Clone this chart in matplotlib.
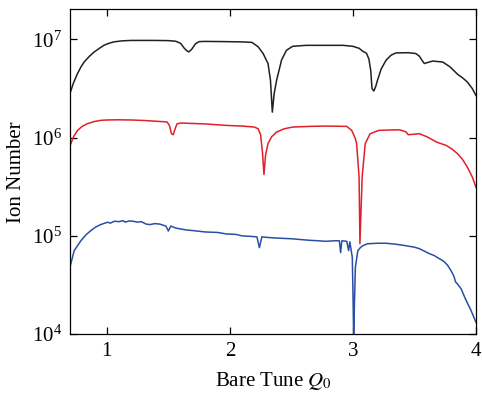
import numpy as np
import matplotlib
matplotlib.use("Agg")
import matplotlib.pyplot as plt
from matplotlib.ticker import LogLocator, NullLocator

plt.rcParams['font.family'] = ['Liberation Serif', 'DejaVu Serif']
plt.rcParams['mathtext.fontset'] = 'stix'

# Black series (bare tune, log10 ion number)
q_black = [0.70, 0.73, 0.762, 0.79, 0.816, 0.86, 0.898, 0.94, 0.979, 1.02, 1.06, 1.128, 1.20, 1.30, 1.40, 1.50,
           1.56, 1.60, 1.63, 1.65, 1.667, 1.69, 1.72, 1.75, 1.80, 1.95, 2.10, 2.18, 2.23, 2.27, 2.31, 2.33,
           2.345, 2.36, 2.38, 2.42, 2.46, 2.51, 2.62, 2.80, 2.92, 3.00, 3.05, 3.08, 3.11, 3.13, 3.145, 3.155,
           3.17, 3.185, 3.20, 3.23, 3.27, 3.31, 3.35, 3.45, 3.51, 3.54, 3.56, 3.58, 3.62, 3.65, 3.73, 3.79, 3.85,
           3.89, 3.93, 3.97, 4.00]
lg_black = [6.449, 6.56, 6.653, 6.72, 6.771, 6.83, 6.873, 6.91, 6.942, 6.962, 6.976, 6.986, 6.99, 6.99, 6.99, 6.988,
            6.982, 6.96, 6.91, 6.885, 6.873, 6.90, 6.955, 6.978, 6.98, 6.978, 6.975, 6.97, 6.925, 6.857, 6.755, 6.585,
            6.26, 6.45, 6.585, 6.79, 6.89, 6.93, 6.94, 6.94, 6.94, 6.93, 6.91, 6.88, 6.86, 6.80, 6.68, 6.50,
            6.475, 6.52, 6.585, 6.70, 6.79, 6.84, 6.863, 6.865, 6.857, 6.83, 6.79, 6.755, 6.77, 6.78, 6.77, 6.72, 6.646,
            6.61, 6.567, 6.50, 6.43]

# Red series
q_red = [0.70, 0.73, 0.762, 0.80, 0.843, 0.90, 0.95, 1.00, 1.087, 1.20, 1.30, 1.43, 1.49, 1.51, 1.525, 1.54,
         1.555, 1.57, 1.60, 1.80, 1.97, 2.10, 2.20, 2.23, 2.25, 2.265, 2.277, 2.29, 2.31, 2.34, 2.38, 2.44,
         2.51, 2.65, 2.78, 2.95, 2.99, 3.02, 3.03, 3.05, 3.057, 3.075, 3.10, 3.14, 3.21, 3.30, 3.38, 3.43,
         3.45, 3.54, 3.60, 3.68, 3.76, 3.81, 3.85, 3.89, 3.93, 3.97, 4.00]
lg_red = [5.914, 6.01, 6.074, 6.115, 6.143, 6.165, 6.176, 6.18, 6.182, 6.18, 6.175, 6.165, 6.16, 6.12, 6.04, 6.03,
          6.09, 6.14, 6.149, 6.14, 6.125, 6.118, 6.108, 6.09, 6.03, 5.85, 5.625, 5.82, 5.94, 6.01, 6.057, 6.09,
          6.108, 6.115, 6.118, 6.115, 6.074, 5.99, 5.94, 5.60, 4.92, 5.60, 5.94, 6.04, 6.074, 6.078, 6.08, 6.06,
          6.03, 6.04, 6.01, 5.955, 5.92, 5.88, 5.837, 5.78, 5.70, 5.60, 5.496]

# Blue series
q_blue = [0.70, 0.735, 0.79, 0.83, 0.87, 0.91, 0.95, 1.006, 1.03, 1.06, 1.10, 1.13, 1.15, 1.18, 1.21, 1.25, 1.28,
          1.32, 1.35, 1.39, 1.43, 1.48, 1.50, 1.52, 1.56, 1.60, 1.65, 1.70, 1.80, 1.90, 1.97, 2.05, 2.10, 2.17,
          2.22, 2.24, 2.26, 2.30, 2.35, 2.43, 2.51, 2.60, 2.65, 2.72, 2.78, 2.85, 2.89, 2.90, 2.91, 2.95, 2.965,
          2.975, 2.995, 3.002, 3.006, 3.012, 3.02, 3.04, 3.06, 3.08, 3.12, 3.20, 3.27, 3.35, 3.43, 3.50, 3.54,
          3.62, 3.66, 3.70, 3.74, 3.77, 3.80, 3.82, 3.835, 3.85, 3.88, 3.91, 3.96, 4.00]
lg_blue = [4.68, 4.85, 4.952, 5.01, 5.054, 5.09, 5.115, 5.139, 5.13, 5.149, 5.145, 5.155, 5.14, 5.152, 5.15, 5.14,
           5.145, 5.12, 5.115, 5.125, 5.12, 5.10, 5.05, 5.10, 5.08, 5.07, 5.06, 5.054, 5.04, 5.035, 5.02, 5.015, 5.00,
           4.995, 4.99, 4.88, 4.99, 4.985, 4.98, 4.975, 4.97, 4.96, 4.955, 4.95, 4.945, 4.95, 4.95, 4.83, 4.95, 4.945,
           4.85, 4.94, 4.78, 4.30, 3.95, 4.30, 4.68, 4.85, 4.88, 4.90, 4.92, 4.925, 4.925, 4.915, 4.90, 4.885, 4.87,
           4.82, 4.80, 4.77, 4.74, 4.70, 4.64, 4.59, 4.53, 4.51, 4.46, 4.37, 4.24, 4.12]

colors = ['#231f20', '#e0202a', '#2a4ea6']

fig = plt.figure(figsize=(4.82, 3.94), dpi=100)
ax = fig.add_axes([0.145, 0.152, 0.8425, 0.824])

for q, lg, c in [(q_black, lg_black, colors[0]), (q_red, lg_red, colors[1]), (q_blue, lg_blue, colors[2])]:
    ax.plot(q, 10 ** np.array(lg), color=c, lw=1.1)

ax.set_yscale('log')
ax.set_xlim(0.7, 4.0)
ax.set_ylim(1e4, 2.02e7)
ax.set_xticks([1, 2, 3, 4])
ax.yaxis.set_major_locator(LogLocator(base=10, numticks=10))
ax.yaxis.set_minor_locator(NullLocator())
ax.tick_params(direction='in', top=True, right=True, length=5, width=0.9, labelsize=15, pad=6)
for s in ax.spines.values():
    s.set_linewidth(0.9)
ax.set_xlabel('Bare Tune $Q_0$', fontsize=15, labelpad=6)
ax.set_ylabel('Ion Number', fontsize=15, labelpad=4)

fig.savefig('out.png', dpi=100)
